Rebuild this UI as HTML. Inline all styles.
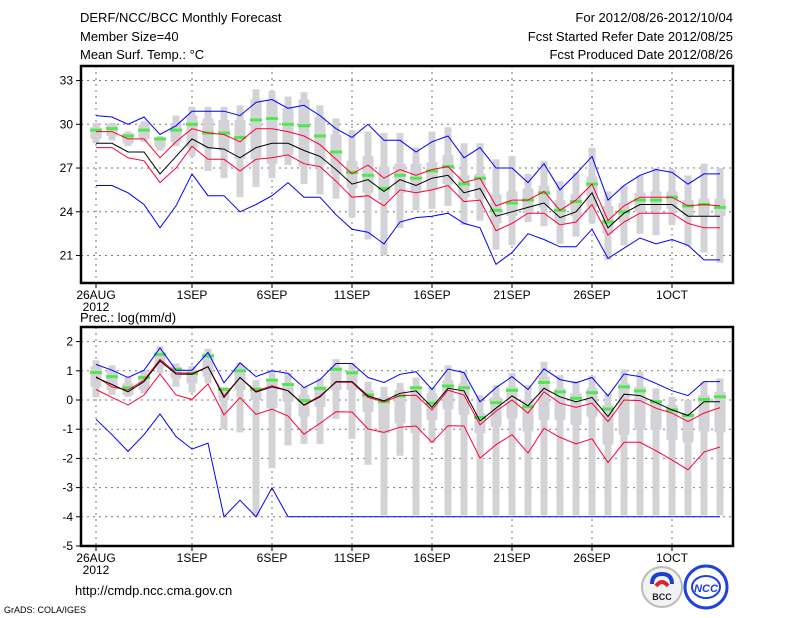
<!DOCTYPE html>
<html><head><meta charset="utf-8"><style>
html,body{margin:0;padding:0;background:#fff;}
svg{display:block;font-family:"Liberation Sans",sans-serif;}
</style></head><body>
<svg id="chart" width="800" height="618" viewBox="0 0 800 618">
<g font-size="13" fill="#000">
<text x="80" y="22">DERF/NCC/BCC Monthly Forecast</text>
<text x="80" y="41">Member Size=40</text>
<text x="80" y="59">Mean Surf. Temp.: °C</text>
<text x="733" y="22" text-anchor="end">For 2012/08/26-2012/10/04</text>
<text x="733" y="41" text-anchor="end">Fcst Started Refer Date 2012/08/25</text>
<text x="733" y="59" text-anchor="end">Fcst Produced Date 2012/08/26</text>
<text x="80" y="322">Prec.: log(mm/d)</text>
</g>
<g id="top"></g>
<g id="bot"></g>
<text x="75" y="595" font-size="13">http://cmdp.ncc.cma.gov.cn</text>
<text x="4" y="613" font-size="9">GrADS: COLA/IGES</text>
<g>
<circle cx="662" cy="587" r="20" fill="#f2f2f2" stroke="#bbb" stroke-width="2"/>
<path d="M652 584 q0 -10 10 -10 q10 0 10 10" fill="none" stroke="#1a3fc8" stroke-width="4"/>
<path d="M656 586 q6 -8 12 0" fill="none" stroke="#e0202a" stroke-width="4"/>
<text x="662" y="600" font-size="9" font-weight="bold" text-anchor="middle" fill="#223">BCC</text>
</g>
<g>
<circle cx="706" cy="587" r="21" fill="#fff" stroke="#2040e0" stroke-width="3"/>
<ellipse cx="706" cy="587" rx="14" ry="11" fill="none" stroke="#2040e0" stroke-width="2"/>
<text x="706" y="592" font-size="11" font-weight="bold" font-style="italic" text-anchor="middle" fill="#2040e0">NCC</text>
</g>
</svg>
<script>
// ---- Temperature panel data ----
const days = ["26AUG","1SEP","6SEP","11SEP","16SEP","21SEP","26SEP","1OCT"];
const tTicks = [21,24,27,30,33];
const tBlueHi = [30.6,30.5,30.0,30.5,29.3,29.9,30.9,30.9,30.9,30.6,31.5,31.7,31.1,31.3,30.6,29.7,29.1,30.0,28.9,28.9,28.1,28.8,29.2,27.7,28.4,27.0,27.0,26.0,27.3,25.5,26.6,27.8,24.8,25.8,26.5,26.9,26.7,25.9,26.6,26.6];
const tBlueLo = [25.8,25.8,25.3,24.5,22.9,24.4,26.6,25.1,25.1,24.0,24.5,25.1,26.0,25.0,25.0,23.8,22.8,22.6,21.8,23.3,23.6,23.7,23.9,23.2,22.9,20.4,21.2,22.5,22.1,21.6,21.6,22.8,20.8,21.5,22.2,21.8,22.1,21.7,20.7,20.7];
const tRedHi = [29.5,29.5,29.0,29.0,27.7,28.8,29.7,29.4,29.3,28.8,29.7,29.7,29.5,29.2,28.6,27.6,26.6,27.2,26.3,26.9,26.5,26.9,27.1,26.0,26.3,24.4,24.8,24.8,25.4,24.1,24.8,25.9,23.4,24.4,25.0,25.0,25.0,24.4,24.5,24.4];
const tRedLo = [28.4,28.4,27.7,27.5,26.0,27.0,28.5,27.6,27.6,26.8,27.6,27.7,27.9,27.3,27.1,26.1,25.0,25.1,24.4,25.5,25.3,25.5,25.8,24.7,24.8,22.7,23.2,23.9,23.9,23.1,23.3,24.5,22.4,23.3,23.9,23.9,23.9,23.2,22.9,22.9];
const tMean = [28.7,28.7,28.1,28.1,26.6,27.8,29.0,28.4,28.3,27.7,28.4,28.7,28.7,28.2,27.8,26.9,25.9,26.2,25.4,26.2,25.8,26.3,26.5,25.3,25.6,23.7,24.0,24.3,24.6,23.6,24.0,25.3,22.9,23.9,24.5,24.5,24.5,23.7,23.7,23.7];
const tGreen = [29.6,29.7,29.2,29.6,29.0,29.6,30.0,29.4,29.4,29.1,30.3,30.4,30.0,29.9,29.2,28.1,26.7,26.5,25.6,26.5,26.3,26.8,27.1,25.9,26.3,24.1,24.6,24.8,25.3,24.1,24.7,25.9,23.3,24.0,24.8,24.8,25.0,24.4,24.5,24.3];
const tWhHi = [30.1,30.1,29.5,30.2,29.2,30.6,31.2,31.2,31.2,31.3,32.4,32.3,31.9,32.2,31.3,30.4,29.6,29.5,29.4,29.4,28.4,29.5,29.8,28.7,28.7,27.6,27.8,26.6,27.5,26.1,26.7,28.4,25.4,25.8,26.5,27.0,26.9,26.5,27.3,27.0];
const tWhLo = [28.7,28.9,28.5,28.8,28.2,28.5,27.8,26.8,26.3,25.0,25.7,26.3,27.2,25.9,25.2,24.9,23.6,22.1,21.0,22.9,24.1,24.2,24.4,23.1,23.4,21.4,21.7,23.3,23.0,21.8,22.3,23.2,20.7,21.7,22.5,22.4,23.1,21.6,21.2,20.5];
const tBoxHi = [29.8,30.0,29.4,30.0,29.0,30.1,30.6,30.4,30.3,30.3,31.7,31.7,31.1,31.7,30.5,29.3,27.5,27.8,27.1,27.3,27.3,27.4,27.9,26.5,26.6,25.2,25.4,25.6,25.8,24.8,25.2,26.4,24.4,24.6,25.3,25.4,25.4,24.8,24.9,24.9];
const tBoxLo = [29.0,29.2,28.7,29.0,28.4,28.8,28.4,28.4,28.2,27.6,27.6,27.3,27.9,27.1,27.2,26.6,25.6,25.3,24.8,25.3,25.3,25.5,25.9,25.0,24.9,23.2,23.7,23.9,24.3,23.2,23.7,24.3,22.5,23.3,24.0,24.1,24.2,23.7,23.7,23.7];
// ---- Precipitation panel data ----
const pTicks = [-5,-4,-3,-2,-1,0,1,2];
const pBlueHi = [1.22,1.02,0.77,1.02,1.78,1.02,1.02,1.63,0.59,1.27,0.8,1.0,0.91,0.42,0.7,1.25,1.25,0.77,0.6,0.88,0.97,0.36,1.06,0.94,-0.06,0.42,0.8,0.36,1.07,0.7,0.59,0.77,0.14,0.89,0.8,0.57,0.32,0.15,0.63,0.63];
const pBlueLo = [-0.66,-1.19,-1.76,-1.19,-0.48,-1.25,-1.68,-1.48,-4,-3.43,-4,-3.01,-4,-4,-4,-4,-4,-4,-4,-4,-4,-4,-4,-4,-4,-4,-4,-4,-4,-4,-4,-4,-4,-4,-4,-4,-4,-4,-4,-4];
const pRedHi = [0.8,0.45,0.34,0.68,1.39,0.93,0.91,1.14,0.14,0.77,0.3,0.49,0.32,-0.16,0.14,0.61,0.61,0.09,-0.06,0.15,0.16,-0.34,0.34,0.17,-0.85,-0.38,0.0,-0.45,0.28,-0.11,-0.25,-0.11,-0.74,0.0,-0.02,-0.28,-0.45,-0.74,-0.45,-0.26];
const pRedLo = [0.36,0.09,-0.17,0.17,0.89,0.17,0.02,0.55,-0.51,0.08,-0.49,-0.31,-0.55,-1.17,-0.8,-0.4,-0.41,-0.99,-1.11,-0.93,-0.89,-1.45,-0.88,-0.89,-1.99,-1.53,-1.19,-1.82,-0.97,-1.28,-1.5,-1.33,-2.14,-1.45,-1.45,-1.74,-2.05,-2.39,-1.78,-1.61];
const pMean = [0.77,0.53,0.28,0.63,1.34,0.89,0.88,1.14,0.09,0.77,0.27,0.45,0.32,-0.18,0.11,0.63,0.63,0.14,-0.03,0.23,0.31,-0.25,0.4,0.31,-0.72,-0.28,0.14,-0.2,0.4,0.11,-0.06,0.09,-0.57,0.2,0.15,-0.09,-0.34,-0.53,-0.06,-0.06];
const pGreen = [0.94,0.8,0.42,0.77,1.56,1.05,0.91,1.51,0.36,1.0,0.37,0.68,0.53,-0.02,0.4,1.05,0.93,0.17,-0.06,0.14,0.42,-0.11,0.48,0.42,-0.6,-0.09,0.33,-0.23,0.6,0.28,0.06,0.25,-0.31,0.45,0.31,-0.06,-0.34,-0.53,0.02,0.11];
const pWhHi = [1.36,1.19,0.8,1.02,1.84,1.25,1.16,1.76,0.45,1.27,0.68,1.02,0.93,0.45,0.74,1.4,1.27,0.63,0.45,0.59,0.77,0.45,1.19,1.0,0.17,0.51,0.93,0.51,1.31,0.85,0.65,0.82,0.23,1.05,0.97,0.4,0.11,0.0,0.63,0.74];
const pWhLo = [0.09,0.17,0.11,0.23,0.91,0.45,0.25,0.57,-1.0,-1.11,-4,-2.33,-1.56,-1.5,-1.5,-0.65,-1.33,-2.22,-3.95,-1.91,-3.95,-1.48,-3.95,-3.95,-3.95,-3.95,-3.95,-3.95,-3.95,-3.95,-3.95,-3.95,-3.95,-3.95,-3.95,-3.95,-3.95,-3.95,-3.95,-3.95];
const pBoxHi = [1.14,1.02,0.57,0.85,1.65,1.14,1.02,1.59,0.4,1.14,0.45,0.74,0.57,0.17,0.45,1.14,1.02,0.34,0.11,0.34,0.45,0.23,0.68,0.57,-0.45,0.11,0.45,0.0,0.8,0.4,0.23,0.4,-0.17,0.57,0.45,0.0,-0.17,-0.45,0.17,0.28];
const pBoxLo = [0.45,0.34,0.17,0.34,1.14,0.74,0.57,0.8,0.0,0.34,0.0,-0.28,-0.06,-0.57,-0.23,0.34,0.34,-0.4,-1.14,-0.8,-1.14,-0.68,-0.32,-0.51,-1.14,-0.91,-0.63,-1.08,-0.68,-0.68,-0.85,-0.57,-1.53,-1.19,-1.02,-1.02,-1.36,-1.45,-1.08,-1.11];

const NS='http://www.w3.org/2000/svg';
function mk(tag, attrs, parent){const e=document.createElementNS(NS,tag);for(const k in attrs)e.setAttribute(k,attrs[k]);parent.appendChild(e);return e;}
const xOf = d => 96 + 16*d;

function drawPanel(g, cfg){
  const {top,bottom,vmin,vmax,ticks,whHi,whLo,boxHi,boxLo,green,lines} = cfg;
  const y = v => bottom - (v - vmin)/(vmax - vmin)*(bottom - top);
  const left=81,right=733;
  // grid
  ticks.forEach(t=>{
    const yy=y(t);
    if(t!==vmin && t!==vmax){
      const gl=mk('line',{x1:left,x2:right,y1:yy,y2:yy,stroke:'#777','stroke-width':1,'stroke-dasharray':'2,4'},g);
      
      
    }
    const tk=mk('line',{x1:left-5,x2:left,y1:yy,y2:yy,stroke:'#000','stroke-width':1},g);
    
    
    const tl=mk('text',{x:left-8,y:yy+4,'text-anchor':'end','font-size':12},g);
    tl.textContent=String(t);
    
    
  });
  days.forEach((d,i)=>{
    const xx=xOf(i*5 + (i>0?1:0));
    const gl=mk('line',{x1:xx,x2:xx,y1:top,y2:bottom,stroke:'#777','stroke-width':1,'stroke-dasharray':'2,4'},g);
    
    
    const tk=mk('line',{x1:xx,x2:xx,y1:bottom,y2:bottom+5,stroke:'#000'},g);
    
    
    const tl=mk('text',{x:xx,y:bottom+16,'text-anchor':'middle','font-size':12},g);
    tl.textContent=d;
    
    
  });
  const yr=mk('text',{x:96,y:bottom+28,'text-anchor':'middle','font-size':12},g);
  yr.textContent='2012';
  
  
  // bars
  whHi.forEach((v,i)=>{
    const xx=xOf(i);
    const w=mk('rect',{x:xx-3.5,y:y(v),width:7,height:y(whLo[i])-y(v),fill:'#d3d3d7'},g);
    
    
    const b=mk('rect',{x:xx-5.5,y:y(boxHi[i]),width:11,height:y(boxLo[i])-y(boxHi[i]),fill:'#d3d3d7'},g);
    
    
  });
  green.forEach((v,i)=>{
    const m=mk('rect',{x:xOf(i)-6,y:y(v)-1.5,width:12,height:3,fill:'#4fe84f'},g);
    
    
  });
  lines.forEach(([arr,col,name])=>{
    const p=mk('polyline',{points:arr.map((v,i)=>xOf(i)+','+y(v).toFixed(1)).join(' '),fill:'none',stroke:col,'stroke-width':1},g);
    
    
  });
  const fr=mk('rect',{x:left,y:top,width:right-left,height:bottom-top,fill:'none',stroke:'#000','stroke-width':2.5},g);
  
  
}

drawPanel(document.getElementById('top'),{
  top:66,bottom:283,vmin:30-(283-124.3)/14.58,vmax:30+(124.3-66)/14.58,ticks:tTicks,
  whHi:tWhHi,whLo:tWhLo,boxHi:tBoxHi,boxLo:tBoxLo,green:tGreen,
  lines:[[tBlueHi,'#0000ff','blue-max-line'],[tBlueLo,'#0000ff','blue-min-line'],[tRedHi,'#ff0033','red-upper-line'],[tRedLo,'#ff0033','red-lower-line'],[tMean,'#000','mean-line']]
});
drawPanel(document.getElementById('bot'),{
  top:327,bottom:546,vmin:-5,vmax:(400-327)/29.2,ticks:pTicks,
  whHi:pWhHi,whLo:pWhLo,boxHi:pBoxHi,boxLo:pBoxLo,green:pGreen,
  lines:[[pBlueHi,'#0000ff','blue-max-line'],[pBlueLo,'#0000ff','blue-min-line'],[pRedHi,'#ff0033','red-upper-line'],[pRedLo,'#ff0033','red-lower-line'],[pMean,'#000','mean-line']]
});
</script>
</body></html>
